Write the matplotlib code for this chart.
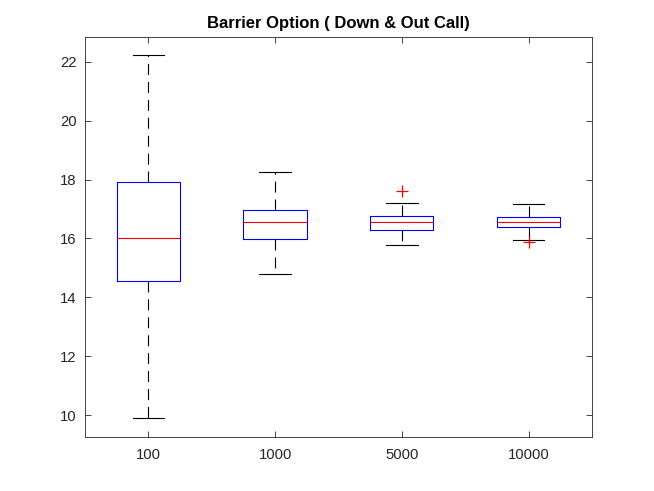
import matplotlib
matplotlib.use("Agg")
import matplotlib.pyplot as plt

plt.rcParams['font.family'] = ['Liberation Sans', 'DejaVu Sans']
plt.rcParams['lines.scale_dashes'] = False

categories = ['100', '1000', '5000', '10000']
whisker_low = [9.90, 14.78, 15.77, 15.93]
q1 = [14.54, 15.97, 16.29, 16.40]
medians = [16.00, 16.56, 16.57, 16.55]
q3 = [17.90, 16.95, 16.76, 16.72]
whisker_high = [22.22, 18.24, 17.19, 17.18]
outliers = [[], [], [17.62], [15.89]]
yticks = [10, 12, 14, 16, 18, 20, 22]

stats = []
for i, c in enumerate(categories):
    stats.append(dict(label=c, whislo=whisker_low[i], q1=q1[i], med=medians[i],
                      q3=q3[i], whishi=whisker_high[i], fliers=outliers[i]))

fig = plt.figure(figsize=(6.54, 4.91), dpi=100)
ax = fig.add_axes([0.13, 0.11, 0.775, 0.815])
ax.bxp(stats, positions=[1, 2, 3, 4], widths=0.5,
       boxprops=dict(color='#0000ff', linewidth=0.8),
       medianprops=dict(color='#ff0000', linewidth=0.8),
       whiskerprops=dict(color='black', linewidth=0.8, linestyle=(0, (7.9, 5.0))),
       capprops=dict(color='black', linewidth=0.8),
       capwidths=0.25,
       flierprops=dict(marker='+', markeredgecolor='#ff0000', markersize=8,
                       markeredgewidth=0.9, linestyle='none'))

ax.set_xlim(0.5, 4.5)
ax.set_ylim(9.254, 22.847)
ax.set_yticks(yticks)
ax.set_xticks([1, 2, 3, 4])
ax.set_xticklabels(categories)
ax.tick_params(direction='in', top=True, right=True, length=4, width=0.6,
               colors='#262626', labelsize=10.7)
ax.tick_params(axis='x', pad=8)
ax.tick_params(axis='y', pad=6)
for s in ax.spines.values():
    s.set_color('#262626')
    s.set_linewidth(0.6)
ax.set_title('Barrier Option ( Down & Out Call)', fontsize=12, fontweight='bold', pad=6)

fig.savefig('out.png', dpi=100)
